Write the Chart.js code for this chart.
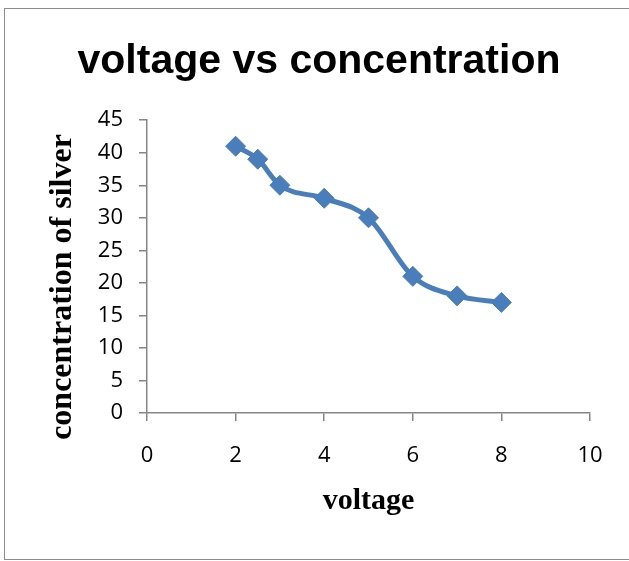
<!DOCTYPE html>
<html>
<head>
<meta charset="utf-8">
<script src="https://cdn.jsdelivr.net/npm/chart.js@4.4.1/dist/chart.umd.min.js"></script>
<style>
  html, body { margin: 0; padding: 0; background: #fff; }
  #frame {
    position: absolute; left: 4px; top: 8px; width: 640px; height: 552px;
    border: 1.5px solid #8c8c8c; box-sizing: border-box;
  }
  #wrap { position: absolute; left: 0; top: 0; width: 629px; height: 561px; }
</style>
</head>
<body>
<div id="frame"></div>
<div id="wrap"><canvas id="chart"></canvas></div>
<script>
const voltage = [2, 2.5, 3, 4, 5, 6, 7, 8];
const silver = [41, 39, 35, 33, 30, 21, 18, 17];
const xTicks = [0, 2, 4, 6, 8, 10];
const yTicks = [0, 5, 10, 15, 20, 25, 30, 35, 40, 45];

const axisGrey = '#868686';
const lineBlue = '#4a7ebb';

// y axis title sits a bit lower than the plot centre, like the Excel original
const yTitlePlugin = {
  id: 'yTitle',
  afterDraw(chart) {
    const { ctx } = chart;
    ctx.save();
    ctx.translate(63, 287);
    ctx.rotate(-Math.PI / 2);
    ctx.font = 'bold 32px "Liberation Serif"';
    ctx.fillStyle = '#000';
    ctx.textAlign = 'center';
    ctx.textBaseline = 'middle';
    ctx.fillText('concentration of silver', 0, 0);
    ctx.restore();
  }
};

const canvas = document.getElementById('chart');
new Chart(canvas, {
  type: 'scatter',
  data: {
    datasets: [{
      label: 'concentration',
      data: voltage.map((v, i) => ({ x: v, y: silver[i] })),
      showLine: true,
      borderColor: lineBlue,
      backgroundColor: lineBlue,
      borderWidth: 5,
      cubicInterpolationMode: 'monotone',
      pointStyle: 'rectRot',
      pointRadius: 10,
      pointBorderWidth: 1,
      pointBorderColor: lineBlue
    }]
  },
  options: {
    responsive: true,
    maintainAspectRatio: false,
    animation: false,
    layout: { padding: { left: 48, right: 39, top: 0, bottom: 0 } },
    plugins: {
      legend: { display: false },
      tooltip: { enabled: false },
      title: {
        display: true,
        text: 'voltage vs concentration',
        color: '#000',
        font: { family: 'Liberation Sans', size: 41, weight: 'bold', lineHeight: 1.2 },
        padding: { top: 37, bottom: 34 }
      }
    },
    scales: {
      x: {
        type: 'linear',
        min: 0,
        max: 10,
        afterBuildTicks: s => { s.ticks = xTicks.map(v => ({ value: v })); },
        afterFit: s => { s.height = 148; },
        border: { color: axisGrey, width: 1.5 },
        grid: { drawOnChartArea: false, color: axisGrey, lineWidth: 1.5, tickLength: 8 },
        ticks: { color: '#000', padding: 22, font: { family: 'Open Sans', size: 22 } },
        title: {
          display: true,
          text: 'voltage',
          color: '#000',
          font: { family: 'Liberation Serif', size: 30, weight: 'bold', lineHeight: 1.2 },
          padding: { top: 0, bottom: 42 }
        }
      },
      y: {
        type: 'linear',
        min: 0,
        max: 45,
        afterBuildTicks: s => { s.ticks = yTicks.map(v => ({ value: v })); },
        afterFit: s => { s.width = 99; },
        border: { color: axisGrey, width: 1.5 },
        grid: { drawOnChartArea: false, color: axisGrey, lineWidth: 1.5, tickLength: 8 },
        ticks: { color: '#000', padding: 16, font: { family: 'Open Sans', size: 22 } }
      }
    }
  },
  plugins: [yTitlePlugin]
});
</script>
</body>
</html>
